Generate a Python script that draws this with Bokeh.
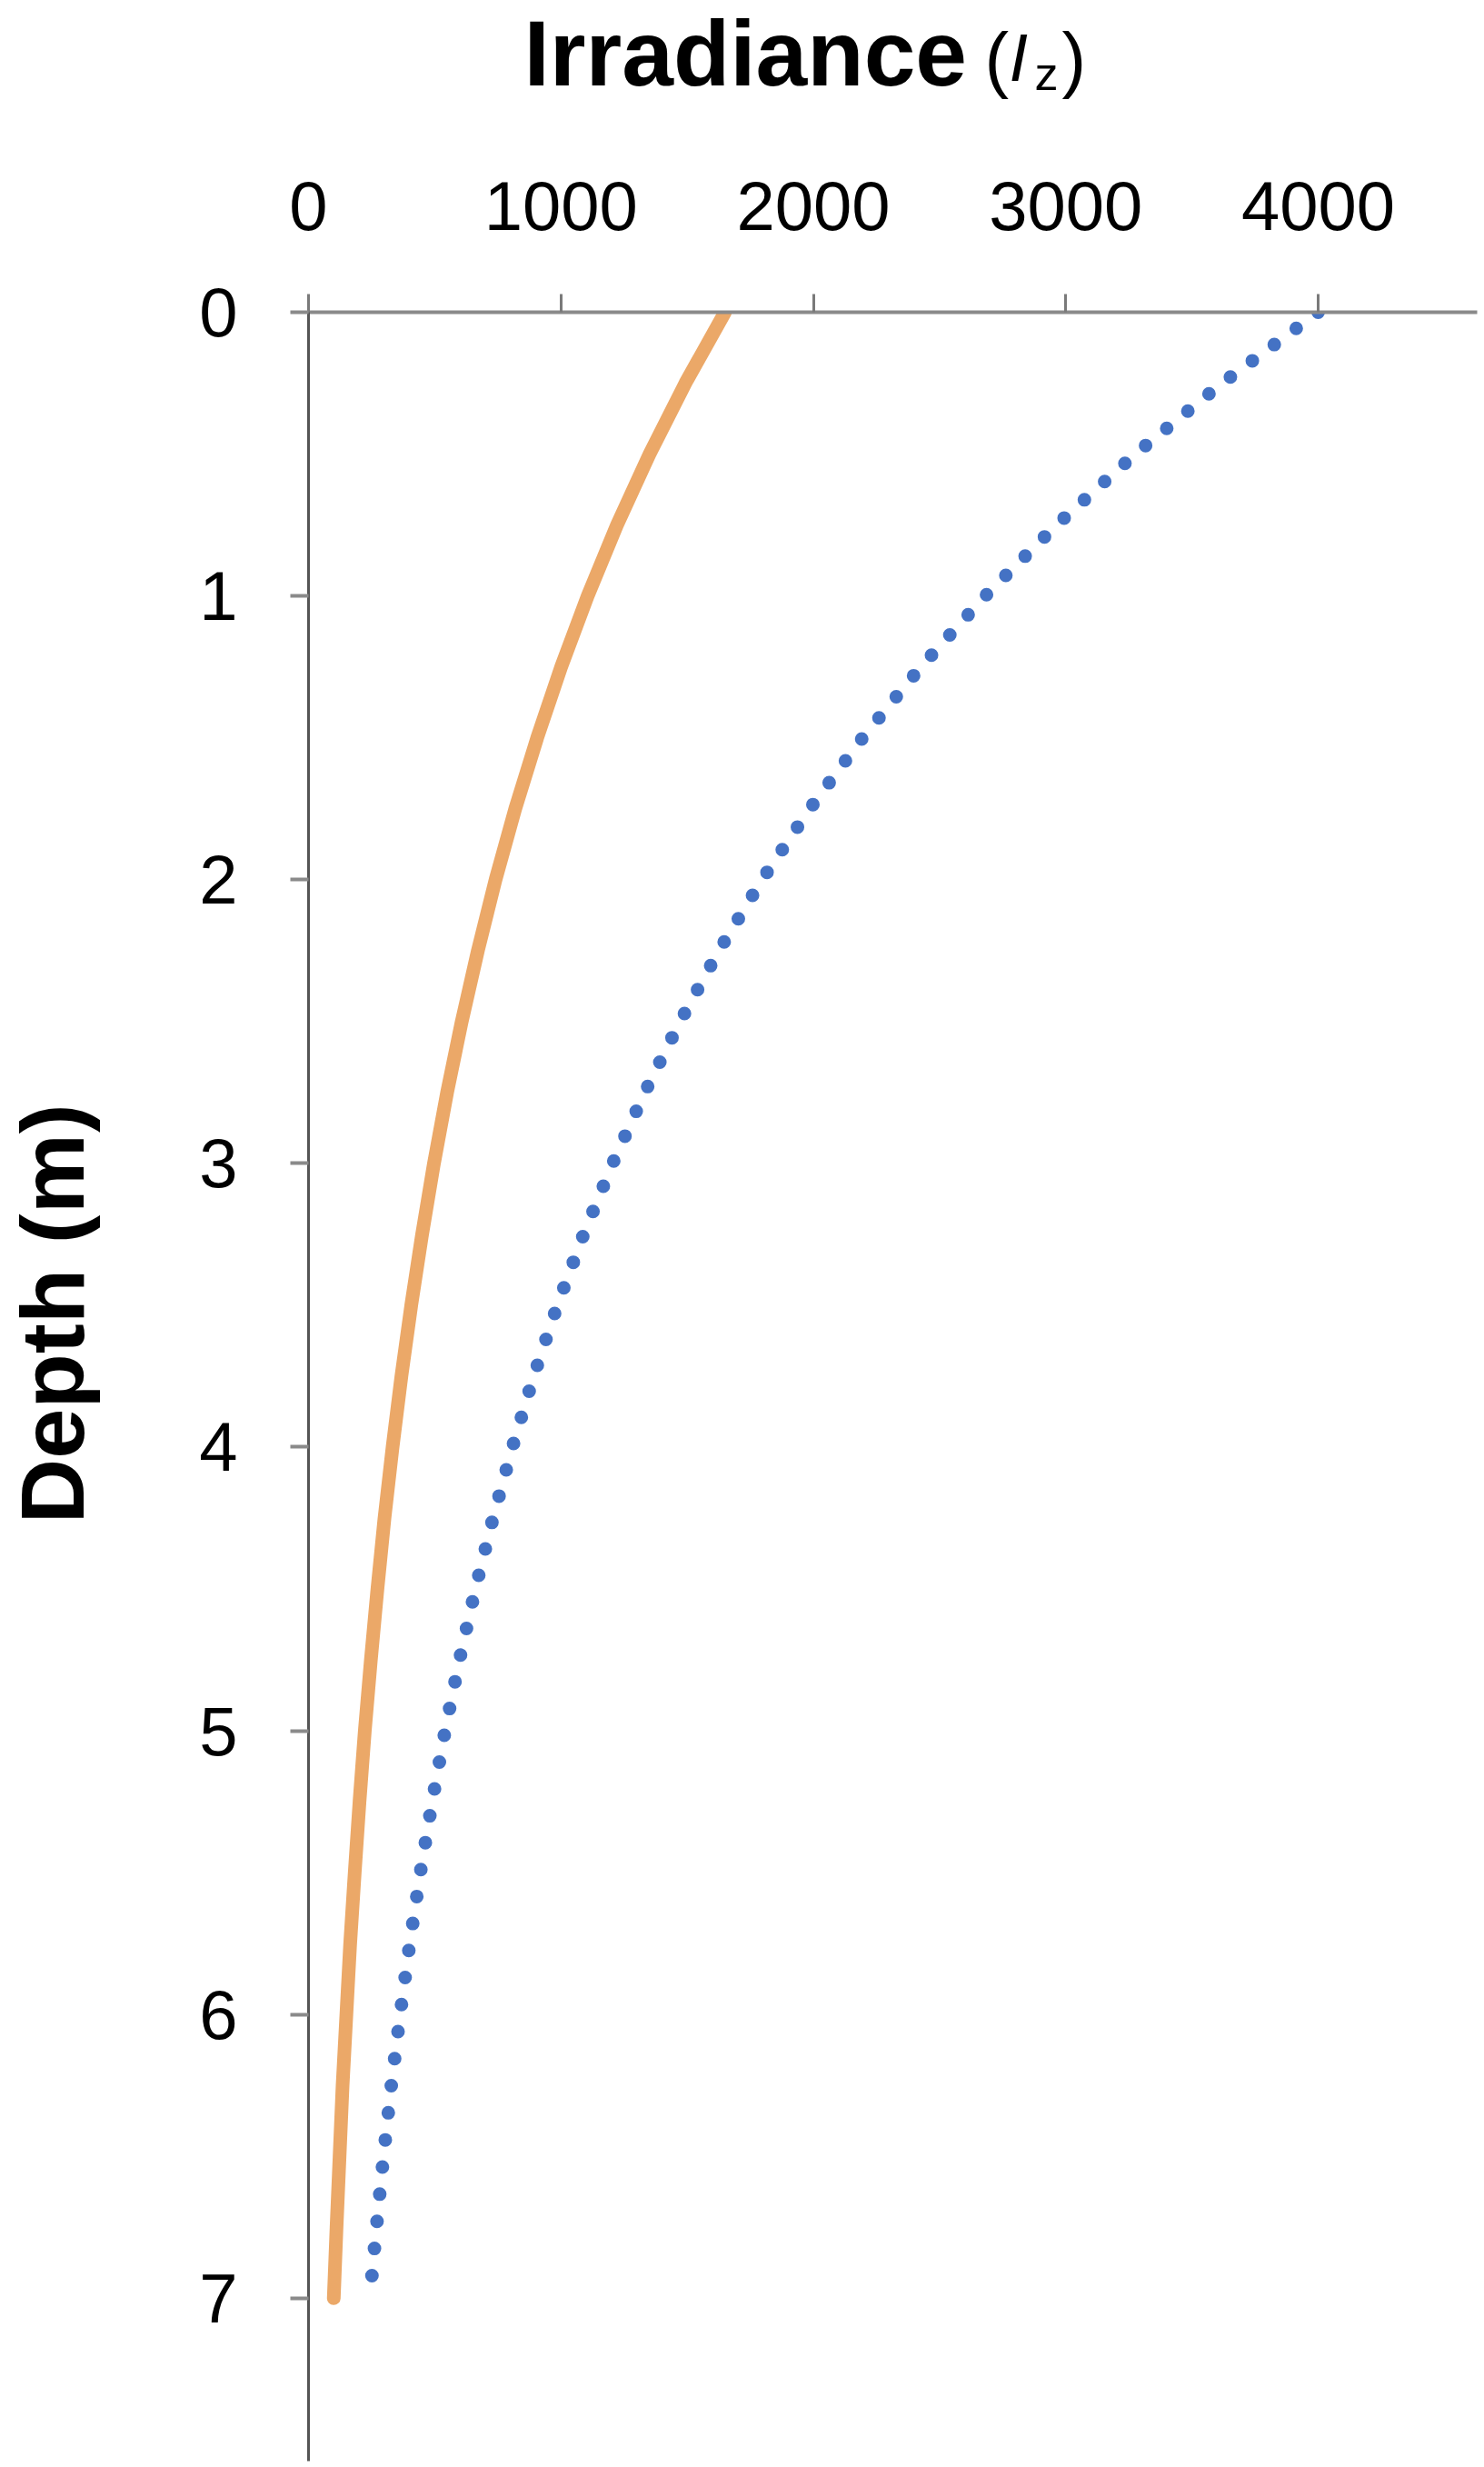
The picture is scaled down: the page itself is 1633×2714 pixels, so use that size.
import math
from bokeh.plotting import figure
from bokeh.models import Range1d, FixedTicker
from bokeh.layouts import column, row
from bokeh.core.properties import value
from bokeh.embed import file_html
from bokeh.resources import INLINE

# ---- data ----
depth_m = [0, 0.25, 0.5, 0.75, 1, 1.25, 1.5, 1.75, 2, 2.25, 2.5, 2.75, 3, 3.25, 3.5,
           3.75, 4, 4.25, 4.5, 4.75, 5, 5.25, 5.5, 5.75, 6, 6.25, 6.5, 6.75, 7]
irradiance_solid = [1650, 1493, 1351, 1222, 1106, 1001, 906, 819, 741, 671, 607, 549,
                    497, 450, 407, 368, 333, 301, 273, 247, 223, 202, 183, 165, 150,
                    135, 123, 111, 100]
irradiance_dotted = [4000, 3619, 3275, 2963, 2681, 2426, 2195, 1986, 1797, 1626, 1472,
                     1332, 1205, 1090, 986, 892, 808, 731, 661, 598, 541, 490, 443,
                     401, 363, 328, 297, 269, 243]
x_ticks = [0, 1000, 2000, 3000, 4000]
y_ticks = [0, 1, 2, 3, 4, 5, 6, 7]

# ---- layout constants (page pixels) ----
W, H = 1633, 2714
TH = 120          # title strip height
LW = 110          # y-title strip width
FL, FT = 339, 343  # frame left / top on the page
FR, FB = 8, 7      # right / bottom borders
X_END = 4630
Y_END = 7.574
FONT = "Liberation Sans"

# ---- title strip ----
tf = figure(width=W, height=TH, x_range=Range1d(0, W), y_range=Range1d(0, TH),
            x_axis_location=None, y_axis_location=None, output_backend="svg",
            toolbar_location=None, min_border=0)
tf.outline_line_color = None
tf.grid.visible = False


def ty(img_y):
    return TH - img_y


tf.text(x=[576], y=[ty(58)], text=["Irradiance"], text_font=value(FONT),
        text_font_size="102px", text_font_style="bold", text_align="left",
        text_baseline="alphabetic", text_color="black")
tf.text(x=[1083], y=[ty(64)], text=["("], text_font=value(FONT),
        text_font_size="80px", text_align="left", text_baseline="alphabetic",
        text_color="black")
tf.text(x=[1110], y=[ty(63)], text=["I"], text_font=value(FONT),
        text_font_size="74px", text_font_style="italic", text_align="left",
        text_baseline="alphabetic", text_color="black")
tf.text(x=[1138], y=[ty(80)], text=["z"], text_font=value(FONT),
        text_font_size="52px", text_align="left", text_baseline="alphabetic",
        text_color="black")
tf.text(x=[1168], y=[ty(64)], text=[")"], text_font=value(FONT),
        text_font_size="80px", text_align="left", text_baseline="alphabetic",
        text_color="black")

# ---- y title strip ----
MH = H - TH
lf = figure(width=LW, height=MH, x_range=Range1d(0, LW), y_range=Range1d(0, MH),
            x_axis_location=None, y_axis_location=None, output_backend="svg",
            toolbar_location=None, min_border=0)
lf.outline_line_color = None
lf.grid.visible = False
lf.text(x=[57], y=[H - 1329], text=["Depth (m)"], text_font=value(FONT),
        text_font_size="99px", text_font_style="bold", angle=math.pi / 2,
        text_align="center", text_baseline="alphabetic", text_color="black")

# ---- main plot ----
p = figure(width=W - LW, height=MH,
           x_range=Range1d(0, X_END), y_range=Range1d(Y_END, 0),
           x_axis_location="above", y_axis_location="left",
           output_backend="svg", toolbar_location=None,
           min_border_left=FL - LW, min_border_top=FT - TH,
           min_border_right=FR, min_border_bottom=FB)
p.outline_line_color = None
p.grid.visible = False

xa = p.xaxis[0]
xa.ticker = FixedTicker(ticks=x_ticks, minor_ticks=[])
xa.axis_line_color = "#8a8a8a"
xa.axis_line_width = 4
xa.major_tick_line_color = "#7a7a7a"
xa.major_tick_line_width = 3
xa.major_tick_out = 20
xa.major_tick_in = 0
xa.minor_tick_out = 0
xa.minor_tick_in = 0
xa.major_label_text_font = FONT
xa.major_label_text_font_size = "76px"
xa.major_label_text_color = "black"
xa.major_label_standoff = 71

ya = p.yaxis[0]
ya.ticker = FixedTicker(ticks=y_ticks, minor_ticks=[])
ya.axis_line_color = "#555555"
ya.axis_line_width = 3
ya.major_tick_line_color = "#8a8a8a"
ya.major_tick_line_width = 4
ya.major_tick_out = 20
ya.major_tick_in = 0
ya.minor_tick_out = 0
ya.minor_tick_in = 0
ya.major_label_text_font = FONT
ya.major_label_text_font_size = "76px"
ya.major_label_text_color = "black"
ya.major_label_standoff = 58

p.line(irradiance_solid, depth_m, line_color="#EBA868", line_width=15, line_cap="round")
p.line(irradiance_dotted, depth_m, line_color="#4472C4", line_width=15,
       line_dash="0 30", line_cap="round")

layout = column(tf, row(lf, p, spacing=0), spacing=0)
open("out.html", "w").write(file_html(layout, INLINE))
